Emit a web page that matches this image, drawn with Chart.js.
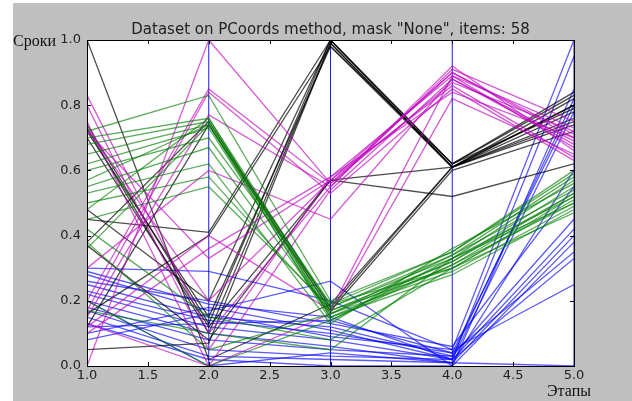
<!DOCTYPE html>
<html>
<head>
<meta charset="utf-8">
<script src="https://cdn.jsdelivr.net/npm/chart.js@4.4.0/dist/chart.umd.min.js"></script>
<style>
  html, body { margin: 0; background: #fff; }
  #wrap { position: relative; width: 632px; height: 401px; }
</style>
</head>
<body>
<div id="wrap"><canvas id="pcoords"></canvas></div>
<script>
// stages on the x axis, one value per stage for every item
const stages = [1, 2, 3, 4, 5];
const xTicks = [1.0, 1.5, 2.0, 2.5, 3.0, 3.5, 4.0, 4.5, 5.0];
const yTicks = [0.0, 0.2, 0.4, 0.6, 0.8, 1.0];
const axisStages = [2, 3, 4, 5];

const greenItems = [
  [0.72, 0.83, 0.20, 0.35, 0.60],
  [0.70, 0.76, 0.18, 0.33, 0.57],
  [0.68, 0.75, 0.17, 0.32, 0.55],
  [0.65, 0.74, 0.16, 0.34, 0.58],
  [0.62, 0.73, 0.15, 0.31, 0.53],
  [0.60, 0.70, 0.19, 0.30, 0.52],
  [0.57, 0.74, 0.14, 0.33, 0.50],
  [0.55, 0.67, 0.16, 0.29, 0.49],
  [0.53, 0.62, 0.13, 0.36, 0.56],
  [0.50, 0.58, 0.17, 0.30, 0.51],
  [0.48, 0.76, 0.15, 0.28, 0.48],
  [0.45, 0.55, 0.18, 0.34, 0.54],
  [0.42, 0.15, 0.08, 0.30, 0.47],
  [0.38, 0.05, 0.16, 0.32, 0.53],
  [0.36, 0.74, 0.19, 0.35, 0.59],
  [0.20, 0.00, 0.14, 0.31, 0.50],
  [0.17, 0.10, 0.05, 0.33, 0.52]
];

const magentaItems = [
  [0.00, 1.00, 0.56, 0.90, 0.70],
  [0.83, 0.10, 0.55, 0.92, 0.66],
  [0.80, 0.05, 0.58, 0.89, 0.73],
  [0.75, 0.00, 0.54, 0.88, 0.68],
  [0.73, 0.20, 0.57, 0.86, 0.64],
  [0.20, 0.85, 0.56, 0.87, 0.72],
  [0.17, 0.84, 0.53, 0.85, 0.63],
  [0.15, 0.77, 0.55, 0.91, 0.75],
  [0.12, 0.40, 0.17, 0.89, 0.67],
  [0.10, 0.36, 0.58, 0.84, 0.70],
  [0.13, 0.00, 0.16, 0.82, 0.65],
  [0.30, 0.60, 0.45, 0.88, 0.69],
  [0.72, 0.33, 0.57, 0.90, 0.71]
];

const blackItems = [
  [1.00, 0.02, 0.19, 0.61, 0.80],
  [0.74, 0.13, 1.00, 0.62, 0.84],
  [0.73, 0.10, 0.99, 0.61, 0.82],
  [0.72, 0.15, 0.98, 0.61, 0.76],
  [0.45, 0.41, 1.00, 0.62, 0.83],
  [0.38, 0.75, 0.18, 0.61, 0.78],
  [0.05, 0.07, 0.99, 0.61, 0.74],
  [0.48, 0.20, 1.00, 0.61, 0.80],
  [0.12, 0.74, 0.17, 0.60, 0.72],
  [0.37, 0.08, 0.57, 0.61, 0.75],
  [0.70, 0.12, 0.57, 0.52, 0.62],
  [0.16, 0.40, 0.98, 0.62, 0.79]
];

const blueItems = [
  [0.30, 0.29, 0.20, 0.05, 1.00],
  [0.29, 0.19, 0.15, 0.02, 0.95],
  [0.28, 0.17, 0.26, 0.00, 0.85],
  [0.25, 0.15, 0.12, 0.03, 0.82],
  [0.23, 0.14, 0.10, 0.04, 0.80],
  [0.22, 0.12, 0.08, 0.02, 0.78],
  [0.20, 0.10, 0.06, 0.01, 0.60],
  [0.18, 0.08, 0.05, 0.03, 0.45],
  [0.17, 0.05, 0.03, 0.02, 0.42],
  [0.15, 0.03, 0.02, 0.01, 0.40],
  [0.13, 0.02, 0.00, 0.00, 0.38],
  [0.12, 0.13, 0.14, 0.04, 0.35],
  [0.10, 0.18, 0.11, 0.02, 0.33],
  [0.08, 0.16, 0.09, 0.05, 0.25],
  [0.20, 0.00, 0.04, 0.01, 0.00],
  [0.26, 0.20, 0.13, 0.06, 0.55]
];

const titleText = 'Dataset on PCoords method, mask "None", items: 58';
const yName = 'Сроки';
const xName = 'Этапы';

function itemSets(items, color) {
  return items.map(function(vals) {
    return {
      data: stages.map(function(s, i) { return { x: s, y: vals[i] }; }),
      borderColor: color,
      borderWidth: 1.3,
      pointRadius: 0,
      tension: 0,
      fill: false
    };
  });
}

// vertical blue axes at every stage except the first one
const axisSets = axisStages.map(function(s) {
  return {
    data: [{ x: s, y: 0 }, { x: s, y: 1 }],
    borderColor: 'rgba(0,0,230,0.9)',
    borderWidth: 1,
    pointRadius: 0,
    fill: false
  };
});

const datasets = []
  .concat(itemSets(greenItems, 'rgba(0,128,0,0.65)'))
  .concat(itemSets(magentaItems, 'rgba(191,0,191,0.65)'))
  .concat(itemSets(blackItems, 'rgba(0,0,0,0.7)'))
  .concat(itemSets(blueItems, 'rgba(0,0,255,0.65)'))
  .concat(axisSets);

const framePlugin = {
  id: 'frame',
  beforeDraw(chart) {
    const ctx = chart.ctx;
    const a = chart.chartArea;
    ctx.save();
    ctx.fillStyle = '#fff';
    ctx.fillRect(0, 0, chart.width, chart.height);
    ctx.fillStyle = '#bfbfbf';
    ctx.fillRect(13, 3, chart.width - 13, chart.height - 3);
    ctx.fillStyle = '#fff';
    ctx.fillRect(a.left, a.top, a.right - a.left, a.bottom - a.top);
    ctx.restore();
  },
  afterDraw(chart) {
    const ctx = chart.ctx;
    const a = chart.chartArea;
    const xs = chart.scales.x;
    const ys = chart.scales.y;
    ctx.save();
    ctx.strokeStyle = '#000';
    ctx.lineWidth = 1;
    ctx.strokeRect(Math.round(a.left) + 0.5, Math.round(a.top) + 0.5,
      Math.round(a.right - a.left), Math.round(a.bottom - a.top));
    ctx.beginPath();
    xTicks.forEach(function(t) {
      const px = Math.round(xs.getPixelForValue(t)) + 0.5;
      ctx.moveTo(px, a.top); ctx.lineTo(px, a.top + 4);
      ctx.moveTo(px, a.bottom); ctx.lineTo(px, a.bottom - 4);
    });
    yTicks.forEach(function(t) {
      const py = Math.round(ys.getPixelForValue(t)) + 0.5;
      ctx.moveTo(a.left, py); ctx.lineTo(a.left + 4, py);
      ctx.moveTo(a.right, py); ctx.lineTo(a.right - 4, py);
    });
    ctx.stroke();

    ctx.fillStyle = '#222';
    ctx.font = '15px "DejaVu Sans"';
    ctx.textAlign = 'center';
    ctx.textBaseline = 'middle';
    ctx.fillText(titleText, (a.left + a.right) / 2, 30);

    ctx.fillStyle = '#111';
    ctx.font = '16px "Liberation Serif"';
    ctx.textAlign = 'left';
    ctx.fillText(yName, 13, 42);
    ctx.fillText(xName, 547, 392);
    ctx.restore();
  }
};

new Chart(document.getElementById('pcoords'), {
  type: 'line',
  data: { datasets: datasets },
  options: {
    responsive: true,
    maintainAspectRatio: false,
    animation: false,
    layout: { padding: { top: 40, right: 58, left: 0, bottom: 0 } },
    plugins: { legend: { display: false }, tooltip: { enabled: false }, title: { display: false } },
    scales: {
      x: {
        type: 'linear',
        min: 1, max: 5,
        afterBuildTicks: function(scale) { scale.ticks = xTicks.map(function(v) { return { value: v }; }); },
        afterFit: function(scale) { scale.height = 35; },
        grid: { display: false, drawTicks: false },
        border: { display: false },
        ticks: {
          padding: 2,
          color: '#222',
          font: { family: 'DejaVu Sans', size: 13 },
          callback: function(v) { return Number(v).toFixed(1); }
        }
      },
      y: {
        type: 'linear',
        min: 0, max: 1,
        afterBuildTicks: function(scale) { scale.ticks = yTicks.map(function(v) { return { value: v }; }); },
        afterFit: function(scale) { scale.width = 87; },
        grid: { display: false, drawTicks: false },
        border: { display: false },
        ticks: {
          padding: 6,
          color: '#222',
          font: { family: 'DejaVu Sans', size: 13 },
          callback: function(v) { return Number(v).toFixed(1); }
        }
      }
    }
  },
  plugins: [framePlugin]
});
</script>
</body>
</html>
